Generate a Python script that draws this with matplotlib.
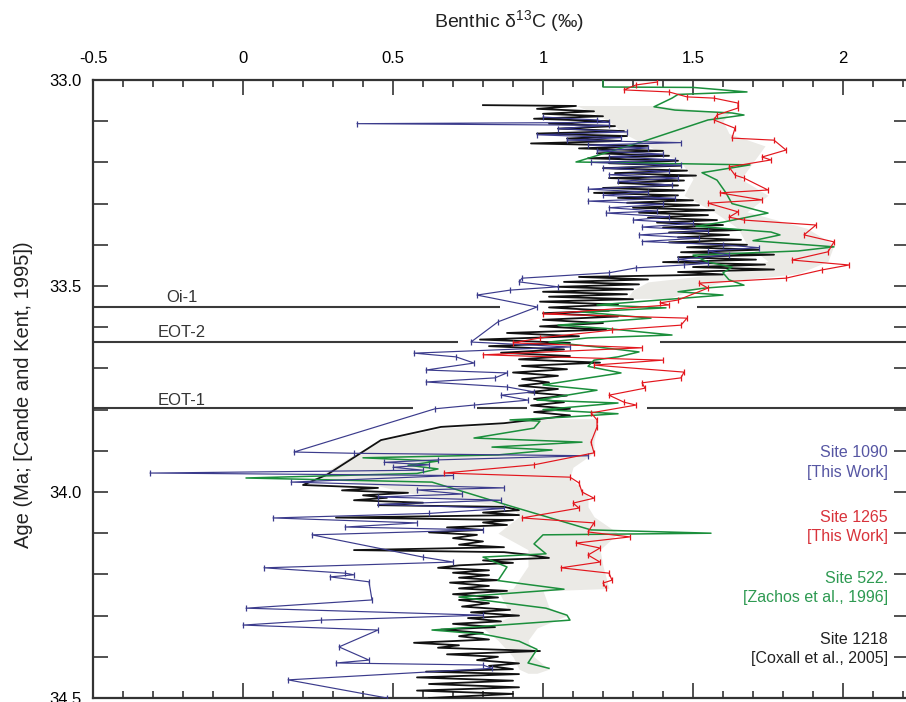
import matplotlib

matplotlib.use("Agg")
import matplotlib.pyplot as plt
import numpy as np
from matplotlib.ticker import FormatStrFormatter, MultipleLocator

plt.rcParams["font.family"] = ["Liberation Sans", "DejaVu Sans"]
plt.rcParams["mathtext.default"] = "regular"

# (age Ma, benthic d13C permil)
site_1090 = [
    (33.090, 1.00), (33.097, 1.18), (33.103, 1.22), (33.106, 0.38), (33.110, 1.22),
    (33.118, 1.05), (33.126, 1.28), (33.133, 0.98), (33.140, 1.26), (33.146, 1.08),
    (33.152, 1.46), (33.158, 1.15), (33.165, 1.35), (33.172, 1.18), (33.180, 1.40),
    (33.186, 1.22), (33.194, 1.44), (33.200, 1.16), (33.207, 1.46), (33.214, 1.20),
    (33.222, 1.42), (33.230, 1.22), (33.238, 1.45), (33.246, 1.25), (33.255, 1.43),
    (33.265, 1.15), (33.272, 1.35), (33.280, 1.20), (33.287, 1.44), (33.294, 1.15),
    (33.302, 1.40), (33.310, 1.22), (33.318, 1.38), (33.323, 1.21), (33.332, 1.42),
    (33.340, 1.30), (33.348, 1.50), (33.357, 1.33), (33.366, 1.55), (33.376, 1.32),
    (33.384, 1.52), (33.392, 1.33), (33.400, 1.60), (33.407, 1.72), (33.415, 1.55),
    (33.425, 1.62), (33.435, 1.45), (33.445, 1.55), (33.449, 1.47), (33.456, 1.31),
    (33.468, 1.22), (33.481, 0.93), (33.490, 0.92), (33.502, 1.05), (33.510, 0.89),
    (33.522, 0.78), (33.551, 0.98), (33.587, 0.85), (33.636, 0.76), (33.648, 1.09),
    (33.663, 0.57), (33.672, 0.71), (33.687, 0.77), (33.704, 0.61), (33.711, 0.88),
    (33.723, 0.84), (33.733, 0.61), (33.745, 0.88), (33.757, 0.97), (33.765, 0.86),
    (33.777, 0.95), (33.789, 0.77), (33.798, 0.64), (33.903, 0.17), (33.906, 0.37),
    (33.912, 1.15), (33.922, 0.65), (33.928, 0.47), (33.934, 0.62), (33.940, 0.50),
    (33.947, 0.60), (33.954, -0.31), (33.960, 0.70), (33.976, 0.16), (33.990, 0.87),
    (33.995, 0.58), (34.005, 0.73), (34.012, 0.45), (34.020, 0.86), (34.030, 0.45),
    (34.040, 0.87), (34.052, 0.62), (34.063, 0.10), (34.075, 0.58), (34.085, 0.34),
    (34.092, 0.80), (34.104, 0.23), (34.158, 0.60), (34.170, 0.70), (34.184, 0.07),
    (34.197, 0.34), (34.201, 0.37), (34.206, 0.29), (34.218, 0.42), (34.262, 0.43),
    (34.282, 0.01), (34.299, 0.80), (34.311, 0.26), (34.323, 0.00), (34.335, 0.45),
    (34.376, 0.32), (34.408, 0.42), (34.415, 0.31), (34.420, 0.80), (34.428, 0.83),
    (34.456, 0.15), (34.500, 0.48),
]

site_1265 = [
    (33.005, 1.38), (33.012, 1.31), (33.024, 1.27), (33.029, 1.42), (33.041, 1.48),
    (33.044, 1.57), (33.056, 1.65), (33.068, 1.65), (33.085, 1.58), (33.097, 1.57),
    (33.117, 1.64), (33.141, 1.63), (33.146, 1.77), (33.170, 1.81), (33.187, 1.73),
    (33.194, 1.76), (33.211, 1.62), (33.231, 1.64), (33.238, 1.67), (33.267, 1.75),
    (33.274, 1.59), (33.291, 1.73), (33.299, 1.55), (33.320, 1.65), (33.333, 1.62),
    (33.340, 1.67), (33.352, 1.91), (33.376, 1.87), (33.393, 1.97), (33.417, 1.95),
    (33.437, 1.83), (33.449, 2.02), (33.461, 1.93), (33.481, 1.81), (33.493, 1.52),
    (33.505, 1.55), (33.534, 1.45), (33.541, 1.39), (33.546, 1.42), (33.568, 1.00),
    (33.578, 1.48), (33.595, 1.46), (33.607, 1.23), (33.626, 0.99), (33.638, 0.90),
    (33.650, 1.33), (33.667, 0.80), (33.680, 1.40), (33.692, 1.17), (33.709, 1.47),
    (33.723, 1.46), (33.735, 1.33), (33.748, 1.34), (33.765, 1.22), (33.782, 1.27),
    (33.789, 1.31), (33.808, 1.16), (33.825, 1.18), (33.842, 1.18), (33.879, 1.16),
    (33.905, 1.17), (33.934, 0.97), (33.954, 0.67), (33.964, 1.09), (33.978, 1.12),
    (34.000, 1.13), (34.015, 1.17), (34.027, 1.10), (34.039, 1.12), (34.063, 0.93),
    (34.075, 1.17), (34.097, 1.15), (34.109, 1.29), (34.124, 1.11), (34.136, 1.19),
    (34.153, 1.15), (34.170, 1.19), (34.184, 1.06), (34.197, 1.22), (34.214, 1.23),
    (34.221, 1.20), (34.233, 1.21),
]

site_522 = [
    (33.000, 1.20), (33.017, 1.20), (33.018, 1.50), (33.029, 1.68), (33.035, 1.45),
    (33.044, 1.43), (33.065, 1.37), (33.073, 1.44), (33.080, 1.63), (33.085, 1.67),
    (33.097, 1.55), (33.150, 1.33), (33.199, 1.11), (33.206, 1.69), (33.225, 1.53),
    (33.243, 1.58), (33.274, 1.61), (33.300, 1.63), (33.323, 1.75), (33.345, 1.60),
    (33.355, 1.51), (33.369, 1.76), (33.376, 1.79), (33.390, 1.70), (33.405, 1.97),
    (33.415, 1.85), (33.425, 1.50), (33.442, 1.55), (33.454, 1.63), (33.468, 1.60),
    (33.485, 1.62), (33.498, 1.67), (33.505, 1.54), (33.514, 1.45), (33.522, 1.60),
    (33.546, 1.18), (33.553, 1.41), (33.563, 1.13), (33.578, 1.36), (33.595, 1.05),
    (33.603, 1.21), (33.619, 1.43), (33.626, 1.15), (33.636, 1.02), (33.648, 1.18),
    (33.660, 1.32), (33.672, 1.25), (33.680, 1.17), (33.695, 1.15), (33.711, 1.26),
    (33.740, 1.00), (33.753, 1.18), (33.777, 0.98), (33.784, 1.25), (33.800, 1.00),
    (33.810, 1.25), (33.818, 1.08), (33.825, 0.89), (33.828, 0.99), (33.845, 0.97),
    (33.869, 0.77), (33.879, 1.13), (33.891, 0.83), (33.898, 1.03), (33.910, 0.85),
    (33.917, 0.40), (33.925, 0.65), (33.935, 0.55), (33.944, 0.65), (33.955, 0.58),
    (33.966, 0.01), (33.976, 0.63), (34.036, 0.90), (34.092, 1.16), (34.100, 1.56),
    (34.104, 1.00), (34.126, 0.97), (34.150, 1.01), (34.158, 0.80), (34.182, 0.88),
    (34.215, 0.85), (34.236, 1.07), (34.255, 0.72), (34.282, 1.01), (34.299, 1.08),
    (34.311, 1.09), (34.335, 0.63), (34.345, 0.80), (34.362, 0.92), (34.382, 0.98),
    (34.415, 0.95), (34.428, 1.02),
]

site_1218 = [
    (33.061, 0.80), (33.063, 1.11), (33.070, 0.98), (33.076, 1.17), (33.082, 1.00),
    (33.088, 1.20), (33.094, 0.97), (33.100, 1.22), (33.106, 1.02), (33.112, 1.24),
    (33.118, 1.05), (33.124, 1.27), (33.130, 0.98), (33.136, 1.28), (33.142, 1.08),
    (33.148, 1.26), (33.154, 0.96), (33.160, 1.35), (33.166, 1.12), (33.172, 1.40),
    (33.178, 1.18), (33.184, 1.42), (33.190, 1.15), (33.196, 1.45), (33.202, 1.22),
    (33.208, 1.46), (33.214, 1.20), (33.220, 1.48), (33.226, 1.24), (33.232, 1.51),
    (33.238, 1.22), (33.244, 1.47), (33.250, 1.25), (33.256, 1.45), (33.262, 1.20),
    (33.268, 1.47), (33.274, 1.17), (33.280, 1.45), (33.286, 1.25), (33.292, 1.50),
    (33.298, 1.28), (33.304, 1.52), (33.310, 1.30), (33.316, 1.57), (33.322, 1.32),
    (33.328, 1.55), (33.334, 1.35), (33.340, 1.58), (33.346, 1.38), (33.352, 1.60),
    (33.358, 1.40), (33.364, 1.66), (33.370, 1.42), (33.376, 1.62), (33.382, 1.45),
    (33.388, 1.66), (33.394, 1.42), (33.400, 1.68), (33.406, 1.48), (33.412, 1.72),
    (33.418, 1.46), (33.424, 1.77), (33.430, 1.45), (33.436, 1.71), (33.442, 1.40),
    (33.448, 1.74), (33.454, 1.50), (33.460, 1.77), (33.466, 1.45), (33.472, 1.60),
    (33.478, 1.12), (33.484, 1.35), (33.490, 1.07), (33.496, 1.32), (33.502, 1.05),
    (33.508, 1.30), (33.514, 1.00), (33.520, 1.28), (33.526, 1.02), (33.532, 1.30),
    (33.538, 0.99), (33.545, 1.25), (33.552, 1.02), (33.560, 1.22), (33.566, 1.00),
    (33.574, 1.25), (33.582, 1.00), (33.590, 1.20), (33.598, 0.99), (33.606, 1.21),
    (33.614, 0.88), (33.622, 1.12), (33.630, 0.79), (33.638, 1.09), (33.646, 0.82),
    (33.654, 1.07), (33.662, 0.86), (33.670, 1.09), (33.678, 0.92), (33.686, 1.19),
    (33.694, 0.93), (33.702, 1.08), (33.710, 0.90), (33.718, 1.05), (33.726, 0.93),
    (33.734, 1.02), (33.742, 0.92), (33.750, 1.05), (33.758, 0.95), (33.766, 1.08),
    (33.774, 0.97), (33.782, 1.07), (33.790, 0.96), (33.798, 1.09), (33.806, 0.97),
    (33.814, 1.09), (33.822, 1.00), (33.833, 0.87), (33.842, 0.66), (33.874, 0.46),
    (33.958, 0.28), (33.983, 0.20), (33.990, 0.45), (33.996, 0.33), (34.002, 0.55),
    (34.008, 0.40), (34.014, 0.48), (34.020, 0.37), (34.026, 0.60), (34.032, 0.45),
    (34.036, 0.87), (34.044, 0.92), (34.050, 0.80), (34.056, 0.92), (34.062, 0.31),
    (34.068, 0.90), (34.074, 0.80), (34.080, 0.88), (34.086, 0.68), (34.092, 0.80),
    (34.098, 0.62), (34.104, 0.78), (34.112, 0.70), (34.120, 0.80), (34.128, 0.72),
    (34.134, 0.87), (34.141, 0.37), (34.146, 0.87), (34.152, 0.95), (34.160, 1.02),
    (34.166, 0.80), (34.172, 0.90), (34.178, 0.72), (34.184, 0.65), (34.190, 0.82),
    (34.196, 0.70), (34.202, 0.82), (34.208, 0.72), (34.214, 0.85), (34.220, 0.69),
    (34.228, 0.82), (34.234, 0.72), (34.240, 0.88), (34.248, 0.70), (34.256, 0.85),
    (34.262, 0.72), (34.270, 0.82), (34.278, 0.73), (34.286, 0.89), (34.292, 0.76),
    (34.300, 0.92), (34.306, 0.75), (34.314, 0.86), (34.320, 0.70), (34.328, 0.84),
    (34.334, 0.66), (34.342, 0.80), (34.350, 0.72), (34.358, 0.82), (34.366, 0.57),
    (34.372, 0.72), (34.378, 0.65), (34.386, 0.99), (34.394, 0.68), (34.400, 0.85),
    (34.408, 0.78), (34.416, 0.92), (34.422, 0.82), (34.430, 0.90), (34.436, 0.61),
    (34.442, 0.92), (34.450, 0.58), (34.458, 0.90), (34.466, 0.62), (34.474, 0.92),
    (34.482, 0.58), (34.490, 0.90), (34.500, 0.62),
]

# grey envelope: (age, left edge, right edge)
envelope_upper = [
    (33.062, 1.11, 1.37), (33.080, 1.17, 1.62), (33.100, 1.22, 1.60),
    (33.130, 1.27, 1.62), (33.160, 1.35, 1.74), (33.200, 1.46, 1.70),
    (33.240, 1.50, 1.66), (33.280, 1.47, 1.75), (33.320, 1.57, 1.68),
    (33.360, 1.65, 1.88), (33.400, 1.68, 1.97), (33.440, 1.75, 1.95),
    (33.470, 1.60, 1.85), (33.490, 1.35, 1.60), (33.510, 1.30, 1.50),
    (33.530, 1.28, 1.42),
]
envelope_lower = [
    (33.822, 1.02, 1.18), (33.835, 0.87, 1.18), (33.845, 0.66, 1.18),
    (33.875, 0.46, 1.17), (33.905, 0.38, 1.17), (33.940, 0.30, 1.10),
    (33.965, 0.25, 1.09), (33.985, 0.45, 1.12), (34.010, 0.60, 1.15),
    (34.036, 0.90, 1.15), (34.060, 0.92, 1.17), (34.100, 0.85, 1.25),
    (34.140, 0.95, 1.19), (34.180, 0.95, 1.20), (34.234, 0.90, 1.22),
    (34.240, 0.85, 1.00), (34.280, 0.88, 1.02), (34.300, 0.90, 1.08),
    (34.330, 0.80, 0.98), (34.360, 0.85, 0.95), (34.400, 0.90, 0.97),
    (34.430, 0.92, 1.02), (34.440, 0.95, 0.98),
]

# climate events: name, age, gaps in the line (d13C ranges)
events = ["Oi-1", "EOT-2", "EOT-1"]
event_ages = [33.551, 33.636, 33.796]
event_gaps = [[(0.857, 1.513)], [(0.717, 1.39)], [(0.567, 0.78), (0.947, 1.347)]]
event_label_pos = [(-0.257, 33.529), (-0.283, 33.614), (-0.283, 33.777)]

XMIN, XMAX = -0.5, 2.22
YMIN, YMAX = 33.0, 34.5

fig = plt.figure(figsize=(9.06, 7.02), dpi=100)
ax = fig.add_axes([93 / 906, 4 / 702, 816 / 906, 618 / 702])

for env in (envelope_upper, envelope_lower):
    a, lo, hi = np.array(env).T
    ax.fill_betweenx(a, lo, hi, color="#ebeae6", lw=0, zorder=1)

for age, gaps in zip(event_ages, event_gaps):
    edges = [XMIN] + [v for g in gaps for v in g] + [XMAX]
    for x0, x1 in zip(edges[0::2], edges[1::2]):
        ax.plot([x0, x1], [age, age], color="#3a3a3a", lw=1.5, zorder=2,
                solid_capstyle="butt")
for name, (x, y) in zip(events, event_label_pos):
    ax.text(x, y, name, fontsize=12, color="#333333", va="center", ha="left")

a, v = np.array(site_1218).T
ax.plot(v, a, color="#111111", lw=1.3, zorder=3)
a, v = np.array(site_522).T
ax.plot(v, a, color="#1b8f3c", lw=1.1, zorder=4)
a, v = np.array(site_1090).T
ax.plot(v, a, color="#3b3b8c", lw=0.85, marker="|", ms=5, mew=0.9, zorder=5)
a, v = np.array(site_1265).T
ax.plot(v, a, color="#e3161d", lw=0.85, marker="|", ms=5, mew=0.9, zorder=6)

labels = [
    ("Site 1090", "[This Work]", "#5656a3", 33.905),
    ("Site 1265", "[This Work]", "#d8333b", 34.061),
    ("Site 522.", "[Zachos et al., 1996]", "#2e9a52", 34.209),
    ("Site 1218", "[Coxall et al., 2005]", "#222222", 34.358),
]
for site, ref, col, y in labels:
    ax.text(2.15, y, site, color=col, fontsize=11.5, ha="right", va="center")
    ax.text(2.15, y + 0.047, ref, color=col, fontsize=11.5, ha="right", va="center")

ax.set_xlim(XMIN, XMAX)
ax.set_ylim(YMAX, YMIN)
ax.xaxis.set_major_locator(MultipleLocator(0.5))
ax.xaxis.set_minor_locator(MultipleLocator(0.1))
ax.yaxis.set_major_locator(MultipleLocator(0.5))
ax.yaxis.set_minor_locator(MultipleLocator(0.1))
ax.xaxis.set_major_formatter(FormatStrFormatter("%g"))
ax.yaxis.set_major_formatter(FormatStrFormatter("%.1f"))
ax.tick_params(axis="x", which="both", direction="in", top=True, bottom=True,
               labeltop=True, labelbottom=False, color="#333333", width=1.2,
               labelsize=12, pad=10)
ax.tick_params(axis="x", which="major", length=11)
ax.tick_params(axis="x", which="minor", length=5)
ax.tick_params(axis="y", which="both", direction="in", left=True, right=True,
               length=11, color="#333333", width=1.2, labelsize=12, pad=8)
for s in ax.spines.values():
    s.set_color("#333333")
    s.set_linewidth(1.6)

fig.text(509 / 906, 1 - 21 / 702, "Benthic δ$^{13}$C (‰)", fontsize=14,
         ha="center", va="center", color="#222222")
fig.text(24 / 906, 1 - 395 / 702, "Age (Ma; [Cande and Kent, 1995])",
         fontsize=14.5, rotation=90, ha="center", va="center", color="#222222")

fig.savefig("out.png", dpi=100)
